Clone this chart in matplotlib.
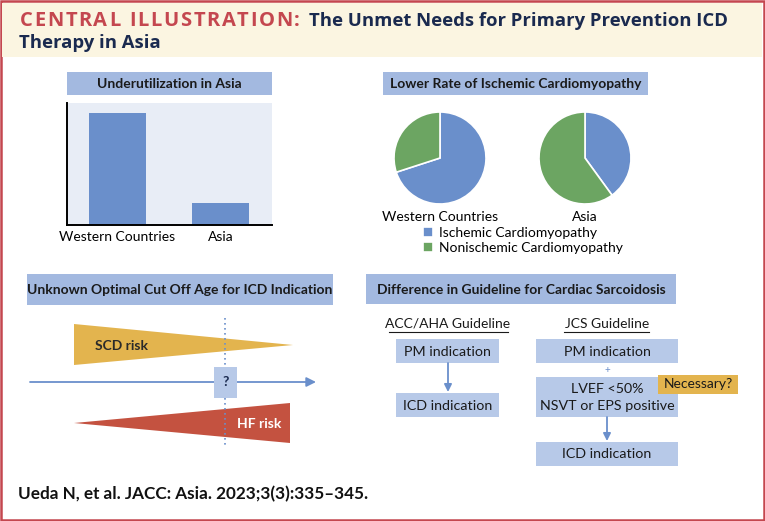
import numpy as np
import matplotlib.pyplot as plt
from matplotlib.patches import Rectangle, Polygon

plt.rcParams['font.family'] = ['Lato', 'DejaVu Sans']

# ---- data ----
util_regions = ['Western Countries', 'Asia']
util_values = [100, 20]          # relative ICD use (arbitrary units)

pie_regions = ['Western Countries', 'Asia']
cm_types = ['Ischemic Cardiomyopathy', 'Nonischemic Cardiomyopathy']
western_cm = [70, 30]
asia_cm = [40, 60]

panel_titles = ['Underutilization in Asia',
                'Lower Rate of Ischemic Cardiomyopathy',
                'Unknown Optimal Cut Off Age for ICD Indication',
                'Difference in Guideline for Cardiac Sarcoidosis']

# ---- colours ----
RED = '#C4474F'
NAVY = '#1A2A4F'
CREAM = '#FBF5E1'
HEAD = '#A3B9E0'
BOXC = '#B7C9E8'
BLUE = '#6A8FCB'
GREEN = '#6CA562'
GOLD = '#E3B44E'
HFRED = '#C45240'
BARBG = '#E8EDF6'
TITLE_FONT = ['Open Sans', 'DejaVu Sans']

W, H = 765, 521
fig = plt.figure(figsize=(W / 100, H / 100), dpi=100)


def frac(x0, y0, x1, y1):
    # pixel box -> figure fraction rect
    return [x0 / W, 1 - y1 / H, (x1 - x0) / W, (y1 - y0) / H]


ax0 = fig.add_axes([0, 0, 1, 1])
ax0.set_xlim(0, W)
ax0.set_ylim(H, 0)
ax0.axis('off')


def box(x0, y0, x1, y1, color, z=1):
    ax0.add_patch(Rectangle((x0, y0), x1 - x0, y1 - y0, facecolor=color,
                            edgecolor='none', zorder=z))


def spaced_text(x, y, s, width, **kw):
    # draw letter-spaced text so that it spans `width` pixels
    r = fig.canvas.get_renderer()
    items = []
    for ch in s:
        t = ax0.text(x, y, ch, **kw)
        items.append((t, t.get_window_extent(r).width if ch != ' ' else None))
    known = [w for _, w in items if w is not None]
    space_w = np.mean(known) * 0.45
    widths = [w if w is not None else space_w for _, w in items]
    gap = (width - sum(widths)) / (len(s) - 1)
    cur = x
    for (t, _), w in zip(items, widths):
        t.set_x(cur)
        cur += w + gap


# frame + header band
ax0.add_patch(Rectangle((1.2, 1.2), W - 2.4, H - 2.4, facecolor='white',
                        edgecolor=RED, lw=1.8, zorder=0))
box(2.5, 2.5, W - 2.5, 57, CREAM, z=0.5)

spaced_text(20, 21, 'CENTRAL ILLUSTRATION:', 280, color=RED, fontsize=14.5,
            fontweight='bold', va='center', family=TITLE_FONT)
ax0.text(309, 21, 'The Unmet Needs for Primary Prevention ICD', color=NAVY,
         fontsize=13.3, fontweight='bold', va='center', family=TITLE_FONT)
ax0.text(19, 43, 'Therapy in Asia', color=NAVY, fontsize=13.3,
         fontweight='bold', va='center', family=TITLE_FONT)

# panel headers
heads = [(67, 72, 272, 95), (383, 72, 648, 95),
         (27, 274, 333, 305), (366, 274, 676, 304)]
for (x0, y0, x1, y1), t in zip(heads, panel_titles):
    box(x0, y0, x1, y1, HEAD)
    ax0.text((x0 + x1) / 2, (y0 + y1) / 2 + 0.5, t, ha='center', va='center',
             fontsize=10, fontweight='bold', color='#1a1a1a')

# ---- panel 1: bar chart ----
axb = fig.add_axes(frac(67, 103, 272, 225))
axb.set_facecolor(BARBG)
axb.bar(range(len(util_values)), util_values, width=0.553, color=BLUE)
axb.set_xlim(-0.49, 1.5)
axb.set_ylim(0, 109)
for s in ['top', 'right']:
    axb.spines[s].set_visible(False)
for s in ['left', 'bottom']:
    axb.spines[s].set_linewidth(1.4)
axb.set_yticks([])
axb.set_xticks(range(len(util_regions)))
axb.set_xticklabels(util_regions, fontsize=10)
axb.tick_params(axis='x', length=0, pad=4)

# ---- panel 2: pies ----
wedges = None
for cx, vals, name in [(440, western_cm, pie_regions[0]),
                       (585, asia_cm, pie_regions[1])]:
    axp = fig.add_axes(frac(cx - 46, 112, cx + 46, 204))
    w, _ = axp.pie(vals, colors=[BLUE, GREEN], startangle=90,
                   counterclock=False,
                   wedgeprops=dict(edgecolor='white', linewidth=1.2))
    axp.set_xlim(-1, 1)
    axp.set_ylim(-1, 1)
    ax0.text(cx, 217, name, ha='center', va='center', fontsize=10)
    wedges = w

fig.legend(wedges, cm_types, loc='upper left',
           bbox_to_anchor=(423 / W, 1 - 227 / H), frameon=False,
           fontsize=10, handlelength=0.75, handleheight=0.75,
           handletextpad=0.4, labelspacing=0.2, borderpad=0,
           borderaxespad=0)

# ---- panel 3: cut off age ----
ax0.add_patch(Polygon([(74, 324), (293, 345), (74, 365)], closed=True,
                      facecolor=GOLD, edgecolor='none', zorder=2))
ax0.add_patch(Polygon([(74, 423), (290, 403), (290, 443)], closed=True,
                      facecolor=HFRED, edgecolor='none', zorder=2))
ax0.annotate('', xy=(316, 382), xytext=(30, 382), zorder=3,
             arrowprops=dict(arrowstyle='-|>', color=BLUE, lw=1.3,
                             mutation_scale=14, shrinkA=0, shrinkB=0))
ax0.plot([225, 225], [318, 448], color=BLUE, ls=(0, (1, 2)), lw=1.2,
         zorder=3)
box(214, 367, 237, 398, BOXC, z=4)
ax0.text(225.5, 382, '?', ha='center', va='center', fontsize=10,
         fontweight='bold', color=NAVY, zorder=5)
ax0.text(95, 346, 'SCD risk', va='center', fontsize=10, fontweight='bold',
         color='#2a2a2a', zorder=5)
ax0.text(237, 424, 'HF risk', va='center', fontsize=10, fontweight='bold',
         color='white', zorder=5)

# ---- panel 4: guideline flow ----
for cx, x0, x1, t in [(448, 389, 508, 'ACC/AHA Guideline'),
                      (607, 564, 649, 'JCS Guideline')]:
    ax0.text(cx, 324, t, ha='center', va='center', fontsize=10,
             color='#1a1a1a')
    ax0.plot([x0, x1], [332, 332], color='#1a1a1a', lw=0.8)

flow = [(396, 339, 499, 363, ['PM indication']),
        (396, 393, 499, 417, ['ICD indication']),
        (536, 339, 678, 363, ['PM indication']),
        (536, 377, 678, 417, ['LVEF <50%', 'NSVT or EPS positive']),
        (536, 442, 678, 466, ['ICD indication'])]
for x0, y0, x1, y1, lines in flow:
    box(x0, y0, x1, y1, BOXC)
    cy = (y0 + y1) / 2 + 0.5
    step = 17
    for i, t in enumerate(lines):
        yy = cy + (i - (len(lines) - 1) / 2) * step
        ax0.text((x0 + x1) / 2, yy, t, ha='center', va='center',
                 fontsize=10.3, color='#1a1a1a')

ax0.text(607, 370, '+', ha='center', va='center', fontsize=7, color=BLUE)
for x, ya, yb in [(448, 363, 392), (607, 417, 441)]:
    ax0.annotate('', xy=(x, yb), xytext=(x, ya),
                 arrowprops=dict(arrowstyle='-|>', color=BLUE, lw=1.3,
                                 mutation_scale=11, shrinkA=0, shrinkB=0))
box(658, 375, 738, 394, GOLD, z=3)
ax0.text(698, 384.5, 'Necessary?', ha='center', va='center', fontsize=10,
         color='#1a1a1a', zorder=4)

# footer
ax0.text(18, 494, 'Ueda N, et al. JACC: Asia. 2023;3(3):335\u2013345.',
         va='center', fontsize=12.3, fontweight='bold', color='#111111')

fig.savefig('out.png', dpi=100)
